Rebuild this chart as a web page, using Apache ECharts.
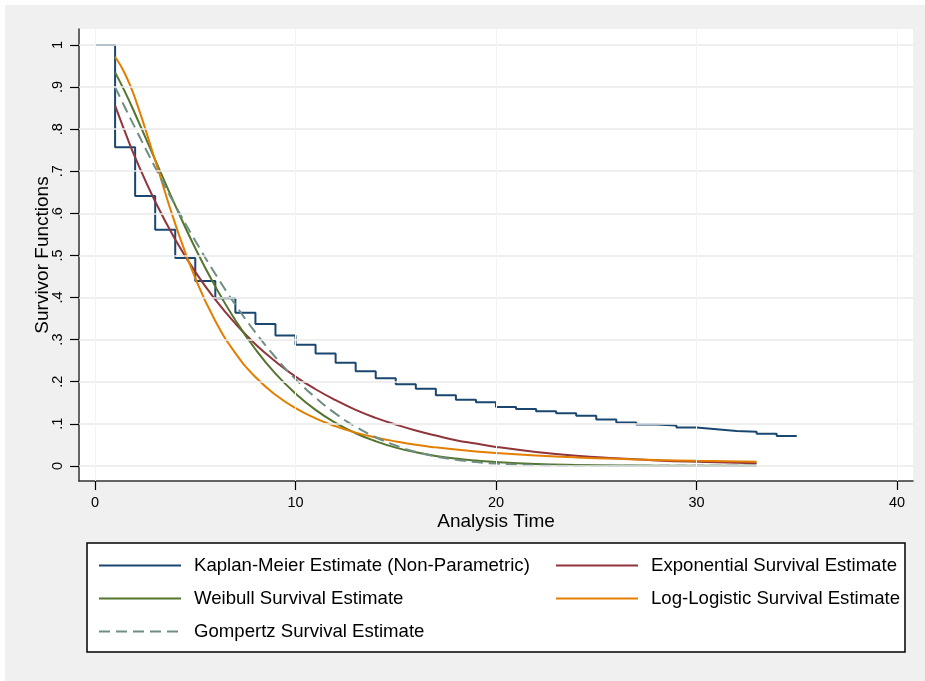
<!DOCTYPE html>
<html>
<head>
<meta charset="utf-8">
<title>Survivor Functions</title>
<script src="https://cdn.jsdelivr.net/npm/echarts@6/dist/echarts.min.js"></script>
<style>
    body { margin: 0; background: #fff; }
    #bg { position: absolute; left: 5px; top: 5px; width: 920px; height: 676px; background: #f0f0f0; }
    #main { position: absolute; left: 0; top: 0; width: 925px; height: 681px; }
</style>
</head>
<body>
<div id="bg"></div>
<div id="main"></div>
<script>
// Kaplan-Meier step estimate
const kmTime = [0,1,2,3,4,5,6,7,8,9,10,11,12,13,14,15,16,17,18,19,20,21,22,23,24,25,26,27,28,29,30,31,32,33,34,35];
const kmSurv = [1.000,0.757,0.641,0.561,0.494,0.439,0.398,0.364,0.337,0.310,0.288,0.267,0.245,0.225,0.208,0.194,0.183,0.168,0.157,0.151,
                0.140,0.135,0.130,0.125,0.119,0.110,0.103,0.098,0.096,0.091,0.087,0.083,0.081,0.076,0.071,0.071];

// parametric fits
const fitTime = [1,1.5,2,3,4,5,6,7,8,9,10,11,12,13,14,15,16,17,18,19,20,22,24,26,28,30,33];
const expSurv = [0.856,0.793,0.733,0.628,0.538,0.461,0.395,0.338,0.289,0.248,0.212,0.182,0.156,0.133,0.114,0.098,0.084,0.072,0.061,0.053,0.045,0.033,0.024,0.018,0.013,0.0096,0.006];
const weibSurv = [0.935,0.888,0.836,0.727,0.619,0.517,0.426,0.346,0.277,0.219,0.172,0.133,0.102,0.0775,0.0584,0.0433,0.0322,0.0236,0.0172,0.0125,0.0089,0.0045,0.0022,0.0011,0.0005,0.0002,0.0001];
const llSurv   = [0.972,0.931,0.873,0.726,0.575,0.446,0.344,0.268,0.211,0.169,0.137,0.113,0.094,0.079,0.0674,0.058,0.050,0.0439,0.0386,0.0342,0.0303,0.0245,0.0200,0.0167,0.0141,0.0120,0.0096];
const gompSurv = [0.900,0.851,0.803,0.709,0.619,0.535,0.456,0.383,0.317,0.258,0.206,0.162,0.124,0.0929,0.0679,0.0483,0.0333,0.0223,0.0144,0.0089,0.0053,0.0016,0.0004,0.0001,0,0,0];

// axis ticks
const xTicks = [0,10,20,30,40];
const yTicks = [0,0.1,0.2,0.3,0.4,0.5,0.6,0.7,0.8,0.9,1];
const yTickLabels = ['0','.1','.2','.3','.4','.5','.6','.7','.8','.9','1'];

const names = ['Kaplan-Meier Estimate (Non-Parametric)','Exponential Survival Estimate','Weibull Survival Estimate',
               'Log-Logistic Survival Estimate','Gompertz Survival Estimate'];
const colors = ['#1a476f','#90353b','#55752f','#e37e00','#6e8e84'];

function pairs(xs, ys){
    let out = [];
    for (let i = 0; i < xs.length; i++) out.push([xs[i], ys[i]]);
    return out;
}

function fitSeries(name, color, ys, dashed){
    return {
        name: name,
        type: 'line',
        data: pairs(fitTime, ys),
        symbol: 'none',
        smooth: 0.5,
        z: 3,
        lineStyle: { color: color, width: 2, type: dashed ? [11, 6] : 'solid' },
        itemStyle: { color: color }
    };
}

const font = 'Liberation Sans, Arial, sans-serif';

let gridLines = [];
for (let i = 0; i < yTicks.length; i++) {
    gridLines.push({ yAxis: yTicks[i], lineStyle: { color: '#eaeaea', width: 1.5, type: 'solid' } });
}
for (let i = 0; i < xTicks.length; i++) {
    gridLines.push({ xAxis: xTicks[i], lineStyle: { color: '#f3f3f3', width: 1, type: 'solid' } });
}

const legendBase = {
    orient: 'vertical', top: 556, padding: 0,
    itemWidth: 82, itemHeight: 19, itemGap: 14,
    itemStyle: { opacity: 0 },
    textStyle: { fontSize: 18.6, color: '#000', fontFamily: font, padding: [0, 0, 0, 8] }
};

const option = {
    animation: false,
    backgroundColor: 'transparent',
    textStyle: { fontFamily: font },
    grid: {
        left: 79, right: 12, top: 29, bottom: 200,
        show: true, backgroundColor: '#fff', borderWidth: 0,
        outerBoundsMode: 'none'
    },
    xAxis: {
        type: 'value',
        min: -0.8, max: 40.8,
        name: 'Analysis Time',
        nameLocation: 'middle',
        nameGap: 31,
        nameMoveOverlap: false,
        nameTextStyle: { fontSize: 19, color: '#000', fontFamily: font },
        axisLine: { show: true, onZero: false, lineStyle: { color: '#333', width: 1.5 } },
        axisTick: { show: true, length: 9, customValues: xTicks, lineStyle: { color: '#000', width: 1.2 } },
        axisLabel: { customValues: xTicks, fontSize: 14.5, color: '#000', margin: 14, fontFamily: font },
        splitLine: { show: false }
    },
    yAxis: {
        type: 'value',
        min: -0.036, max: 1.038,
        name: 'Survivor Functions',
        nameLocation: 'middle',
        nameGap: 27,
        nameMoveOverlap: false,
        nameTextStyle: { fontSize: 19, color: '#000', fontFamily: font },
        axisLine: { show: true, onZero: false, lineStyle: { color: '#333', width: 1.5 } },
        axisTick: { show: true, length: 9, customValues: yTicks, lineStyle: { color: '#000', width: 1.2 } },
        axisLabel: {
            customValues: yTicks, rotate: 90, fontSize: 14.5, color: '#000', margin: 14, fontFamily: font,
            formatter: function(v){ return yTickLabels[Math.round(v * 10)]; }
        },
        splitLine: { show: false }
    },
    graphic: [{
        type: 'rect',
        shape: { x: 87, y: 543, width: 818, height: 109 },
        style: { fill: '#fff', stroke: '#000', lineWidth: 1.5 }
    }],
    legend: [
        Object.assign({}, legendBase, { data: [names[0], names[2], names[4]], left: 98 }),
        Object.assign({}, legendBase, { data: [names[1], names[3]], left: 555 })
    ],
    series: [
        {
            name: 'grid',
            type: 'line',
            data: [],
            z: 1,
            silent: true,
            markLine: { silent: true, symbol: 'none', label: { show: false }, animation: false, data: gridLines }
        },
        {
            name: names[0],
            type: 'line',
            data: pairs(kmTime, kmSurv),
            step: 'end',
            symbol: 'none',
            z: 3,
            lineStyle: { color: colors[0], width: 2 },
            itemStyle: { color: colors[0] }
        },
        fitSeries(names[1], colors[1], expSurv, false),
        fitSeries(names[2], colors[2], weibSurv, false),
        fitSeries(names[3], colors[3], llSurv, false),
        fitSeries(names[4], colors[4], gompSurv, true)
    ]
};

let myChart = echarts.init(document.getElementById('main'));
myChart.setOption(option);
</script>
</body>
</html>
